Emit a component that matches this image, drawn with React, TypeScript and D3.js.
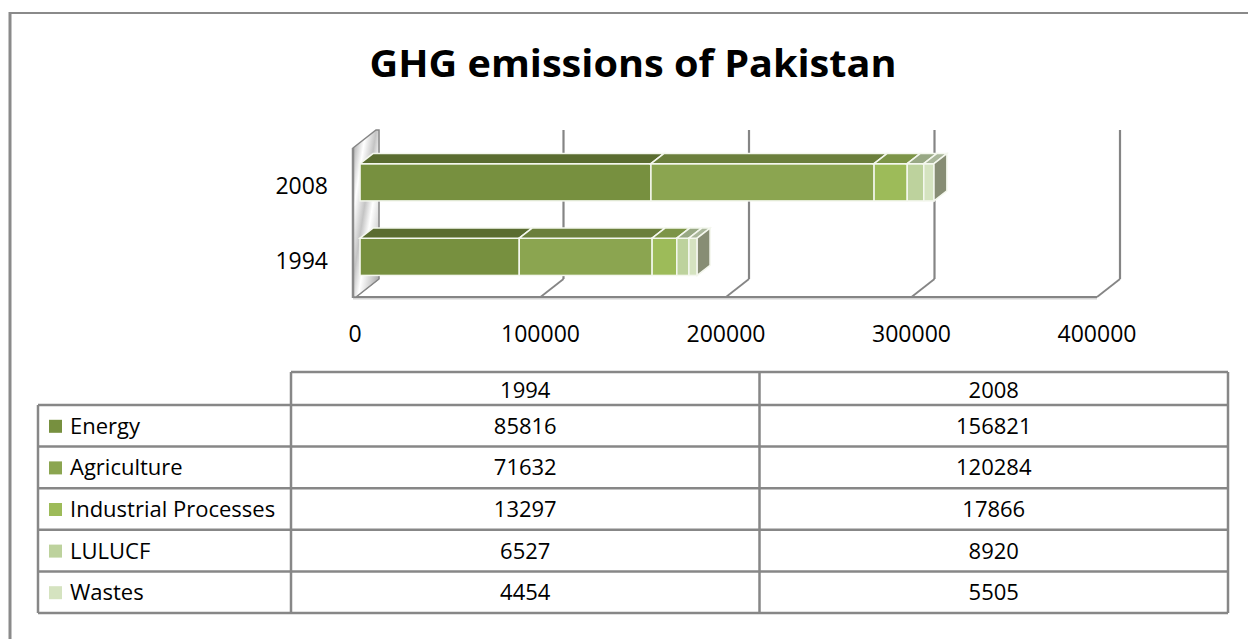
import React from "react";
import * as d3 from "d3";

// chart data
const years = ["1994", "2008"];
const barOrder = ["2008", "1994"];
const sectors = ["Energy", "Agriculture", "Industrial Processes", "LULUCF", "Wastes"];
const values1994 = [85816, 71632, 13297, 6527, 4454];
const values2008 = [156821, 120284, 17866, 8920, 5505];
const xTicks = [0, 100000, 200000, 300000, 400000];

const frontColors = ["#77903f", "#8ba550", "#9dbb59", "#bdd29d", "#d5e3c0"];
const topColors = ["#5a6c30", "#6b7f3c", "#7c9447", "#98a884", "#aab79b"];
const sideColor = "#878d74";

const W = 1248;
const H = 639;

// 3d geometry
const depth = { dx: 23, dy: -18 };
const barFront = 0.22; // fraction of depth where bar front sits
const barDepth = 0.56;

const font = "'Open Sans', 'Noto Sans', sans-serif";
const gridColor = "#858585";

const App = () => {
  const byYear: Record<string, number[]> = { "1994": values1994, "2008": values2008 };

  const x = d3.scaleLinear().domain([0, 400000]).range([355, 1097]);
  const y = d3
    .scaleBand()
    .domain(barOrder)
    .range([149, 298])
    .paddingInner(0.5)
    .paddingOuter(0.25);

  const floorY = 297;
  const topY = 148;
  const bfx = depth.dx * barFront;
  const bfy = depth.dy * barFront;
  const bdx = depth.dx * barDepth;
  const bdy = depth.dy * barDepth;

  // table scales
  const col = d3.scaleBand().domain(years).range([291, 1228]);
  const row = d3.scaleBand().domain(sectors).range([405, 613]);
  const headTop = 372;
  const tableLeft = 38;

  const pts = (arr: number[][]) => arr.map((p) => p.join(",")).join(" ");

  return (
    <svg
      width={W}
      height={H}
      style={{ position: "absolute", left: 0, top: 0, background: "#fff" }}
      fontFamily={font}
    >
      <defs>
        <linearGradient id="wallGrad" x1="0" y1="0" x2="1" y2="1">
          <stop offset="0" stopColor="#9a9a9a" />
          <stop offset="0.25" stopColor="#ffffff" />
          <stop offset="0.45" stopColor="#c4c4c4" />
          <stop offset="0.6" stopColor="#ffffff" />
          <stop offset="0.8" stopColor="#d0d0d0" />
          <stop offset="1" stopColor="#9a9a9a" />
        </linearGradient>
      </defs>

      {/* outer frame */}
      <line x1={10} y1={13} x2={W} y2={13} stroke="#8a8a8a" strokeWidth={2} />
      <line x1={10} y1={12} x2={10} y2={H} stroke="#8a8a8a" strokeWidth={3} />

      {/* title */}
      <text
        x={633}
        y={77}
        textAnchor="middle"
        fontSize={38}
        fontWeight="bold"
        textLength={527}
        lengthAdjust="spacingAndGlyphs"
        fill="#000"
      >
        GHG emissions of Pakistan
      </text>

      {/* back wall grid lines */}
      {xTicks.map((t) => (
        <g key={"g" + t}>
          <line
            x1={x(t) + depth.dx}
            x2={x(t) + depth.dx}
            y1={topY + depth.dy}
            y2={floorY + depth.dy}
            stroke={gridColor}
            strokeWidth={2.2}
          />
          <line
            x1={x(t)}
            y1={floorY}
            x2={x(t) + depth.dx}
            y2={floorY + depth.dy}
            stroke={gridColor}
            strokeWidth={1.8}
          />
        </g>
      ))}

      {/* floor */}
      <line x1={x(0) - 2} y1={floorY + 1.5} x2={x(400000)} y2={floorY + 1.5} stroke="#d4d4d4" strokeWidth={2} />
      <line x1={x(0) - 2} y1={floorY} x2={x(400000)} y2={floorY} stroke={gridColor} strokeWidth={1.8} />

      {/* left wall */}
      <polygon
        points={pts([
          [x(0) - 2, topY],
          [x(0) - 2 + depth.dx, topY + depth.dy],
          [x(0) + 1 + depth.dx, topY + depth.dy],
          [x(0) + 1 + depth.dx, floorY + depth.dy],
          [x(0) + 1, floorY],
          [x(0) - 2, floorY],
        ])}
        fill="url(#wallGrad)"
        stroke={gridColor}
        strokeWidth={1.5}
      />
      <line x1={x(0) - 2} y1={topY} x2={x(0) - 2} y2={floorY + 1} stroke="#8a8a8a" strokeWidth={2.5} />

      {/* bars */}
      {barOrder.map((yr) => {
        const vals = byYear[yr];
        const y0 = (y(yr) as number) + bfy;
        const h = y.bandwidth();
        let acc = 0;
        const segs = vals.map((v, i) => {
          const s = { i, a: acc, b: acc + v };
          acc += v;
          return s;
        });
        return (
          <g key={yr}>
            {segs.map((s) => {
              const x0 = x(s.a) + bfx;
              const x1 = x(s.b) + bfx;
              return (
                <g key={s.i}>
                  <rect
                    x={x0}
                    y={y0}
                    width={x1 - x0}
                    height={h}
                    fill={frontColors[s.i]}
                    stroke="#f4f7ee"
                    strokeWidth={1.5}
                  />
                  <polygon
                    points={pts([
                      [x0, y0],
                      [x0 + bdx, y0 + bdy],
                      [x1 + bdx, y0 + bdy],
                      [x1, y0],
                    ])}
                    fill={topColors[s.i]}
                    stroke="#f4f7ee"
                    strokeWidth={1.5}
                  />
                  {s.i === segs.length - 1 && (
                    <polygon
                      points={pts([
                        [x1, y0],
                        [x1 + bdx, y0 + bdy],
                        [x1 + bdx, y0 + h + bdy],
                        [x1, y0 + h],
                      ])}
                      fill={sideColor}
                      stroke="#f4f7ee"
                      strokeWidth={1.5}
                    />
                  )}
                </g>
              );
            })}
          </g>
        );
      })}

      {/* category labels */}
      {barOrder.map((yr) => (
        <text
          key={"l" + yr}
          x={328}
          y={(y(yr) as number) + y.bandwidth() / 2 + 8}
          textAnchor="end"
          fontSize={23}
          fill="#000"
        >
          {yr}
        </text>
      ))}

      {/* x tick labels */}
      {xTicks.map((t) => (
        <text key={"t" + t} x={x(t)} y={342} textAnchor="middle" fontSize={23} fill="#000">
          {t}
        </text>
      ))}

      {/* data table */}
      <g stroke="#878787" strokeWidth={2.5} fill="none">
        <line x1={col("1994") as number} y1={headTop} x2={1228} y2={headTop} />
        <line x1={tableLeft} y1={row("Energy") as number} x2={1228} y2={row("Energy") as number} />
        {sectors.map((s) => (
          <line
            key={"r" + s}
            x1={tableLeft}
            x2={1228}
            y1={(row(s) as number) + row.bandwidth()}
            y2={(row(s) as number) + row.bandwidth()}
          />
        ))}
        <line x1={tableLeft} y1={row("Energy") as number} x2={tableLeft} y2={613} />
        {years.map((yr) => (
          <line key={"c" + yr} x1={col(yr) as number} x2={col(yr) as number} y1={headTop} y2={613} />
        ))}
        <line x1={1228} y1={headTop} x2={1228} y2={613} />
      </g>

      {years.map((yr) => (
        <text
          key={"h" + yr}
          x={(col(yr) as number) + col.bandwidth() / 2}
          y={headTop + 26}
          textAnchor="middle"
          fontSize={22}
          fill="#000"
        >
          {yr}
        </text>
      ))}

      {sectors.map((s, i) => {
        const ry = (row(s) as number) + row.bandwidth() / 2;
        return (
          <g key={"row" + s}>
            <rect x={49} y={ry - 6} width={13} height={13} fill={frontColors[i]} />
            <text x={70} y={ry + 8} fontSize={22} fill="#000">
              {s}
            </text>
            {years.map((yr) => (
              <text
                key={yr}
                x={(col(yr) as number) + col.bandwidth() / 2}
                y={ry + 8}
                textAnchor="middle"
                fontSize={22}
                fill="#000"
              >
                {byYear[yr][i]}
              </text>
            ))}
          </g>
        );
      })}
    </svg>
  );
};

export default App;
